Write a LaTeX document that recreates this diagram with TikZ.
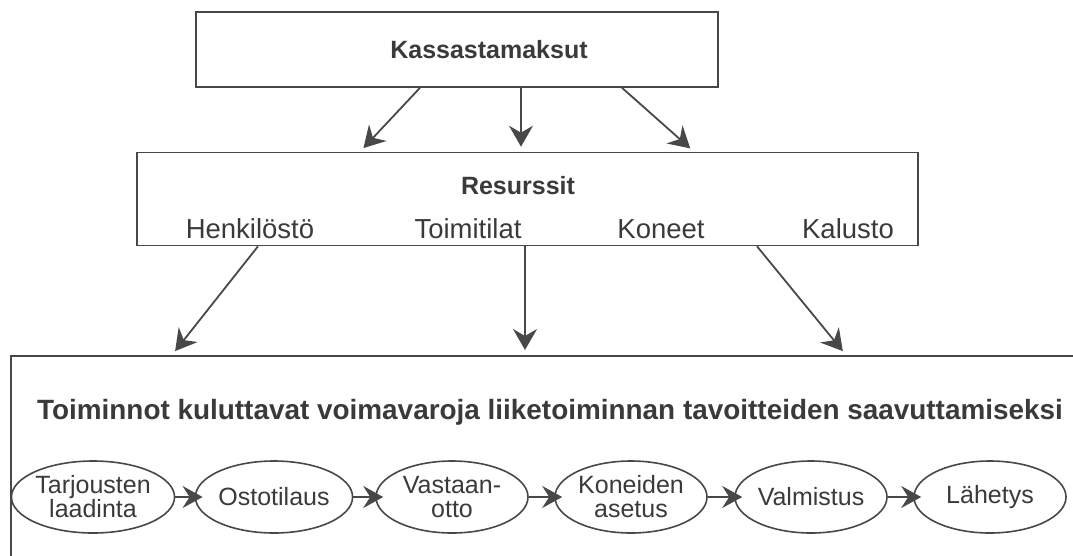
\documentclass[tikz,border=0pt]{standalone}
\usepackage{fontspec}
\setmainfont{Liberation Sans}
\usetikzlibrary{arrows.meta,shapes.geometric}
\definecolor{ink}{HTML}{3A3A3A}
\definecolor{rule}{HTML}{484848}
\begin{document}
\begin{tikzpicture}[x=1pt,y=-1pt,
  boxline/.style={draw=rule,line width=1.6pt},
  arr/.style={draw=rule,line width=1.8pt,-{Stealth[length=21pt,width=24pt,inset=7pt]}},
  chain/.style={draw=rule,line width=2pt,-{Stealth[length=20pt,width=22pt,inset=7pt]},shorten >=-8pt},
  head/.style={text=ink,font=\fontsize{25}{28}\selectfont\bfseries},
  item/.style={text=ink,font=\fontsize{27.5}{30}\selectfont},
  act/.style={ellipse,draw=rule,line width=1.6pt,minimum width=152pt,minimum height=72pt,inner sep=0pt,
    text=ink,align=center,font=\fontsize{25}{27}\selectfont}]
\useasboundingbox (0,0) rectangle (1073,555);
\clip (0,0) rectangle (1073,555);

% cash payments
\node[boxline,minimum width=522pt,minimum height=75pt,inner sep=0pt] (cash) at (457,49.5) {};
\node[head] (cashT) at (489,50) {Kassastamaksut};

% resources
\node[boxline,minimum width=781pt,minimum height=93pt,inner sep=0pt] (res) at (527.5,199) {};
\node[head] (resT) at (518,186) {Resurssit};
\node[item] (r1) at (250,229) {Henkilöstö};
\node[item] (r2) at (468,229) {Toimitilat};
\node[item] (r3) at (661,229) {Koneet};
\node[item] (r4) at (848,229) {Kalusto};

% activities
\node[boxline,minimum width=1100pt,minimum height=240pt,inner sep=0pt,anchor=north west] (actbox) at (10,355) {};
\node[head,font=\fontsize{27.9}{31}\selectfont\bfseries] (actT) at (550,412)
  {Toiminnot kuluttavat voimavaroja liiketoiminnan tavoitteiden saavuttamiseksi};

\node[act] (e1) at (93,497)  {Tarjousten\\[-3pt]laadinta};
\node[act] (e2) at (274,497) {Ostotilaus};
\node[act] (e3) at (452,497) {Vastaan-\\[-3pt]otto};
\node[act] (e4) at (631,497) {Koneiden\\[-3pt]asetus};
\node[act] (e5) at (811,497) {Valmistus};
\node[act] (e6) at (990,497) {Lähetys};

% flows between levels
\draw[arr,shorten >=5pt] (cash.south -| 420,0) -- (res.north -| 360,0);
\draw[arr,shorten >=5pt] (cash.south -| 521,0) -- (res.north -| 521,0);
\draw[arr,shorten >=5pt] (cash.south -| 622,0) -- (res.north -| 694,0);

\draw[arr,shorten >=5pt] (res.south -| 258,0) -- (actbox.north -| 172,0);
\draw[arr,shorten >=5pt] (res.south -| 525,0) -- (actbox.north -| 525,0);
\draw[arr,shorten >=5pt] (res.south -| 757,0) -- (actbox.north -| 846,0);

% activity chain
\draw[chain] (e1) -- (e2);
\draw[chain] (e2) -- (e3);
\draw[chain] (e3) -- (e4);
\draw[chain] (e4) -- (e5);
\draw[chain] (e5) -- (e6);
\end{tikzpicture}
\end{document}
